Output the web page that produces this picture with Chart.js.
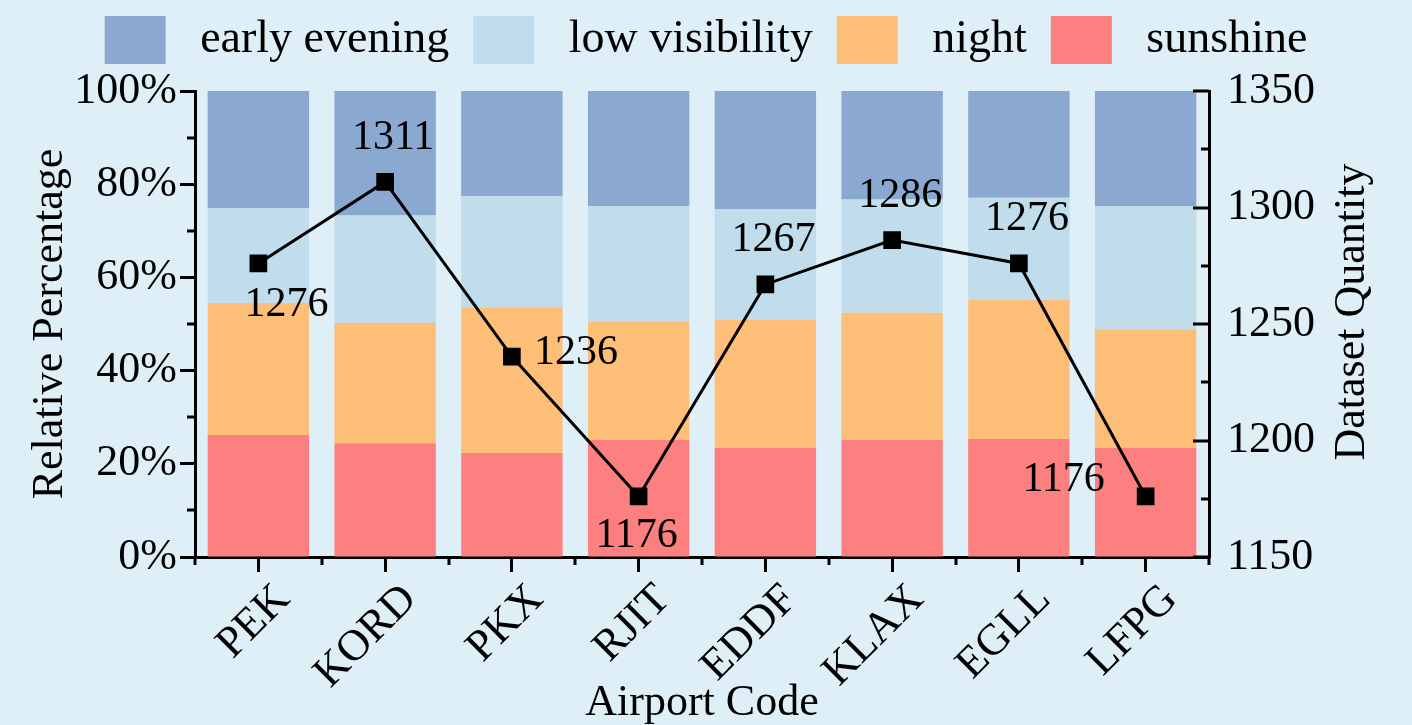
<!DOCTYPE html>
<html>
<head>
<meta charset="utf-8">
<script src="https://cdn.jsdelivr.net/npm/chart.js@4"></script>
<style>
  html, body { margin: 0; padding: 0; background: #dfeff8; }
  #wrap { width: 1412px; height: 725px; }
</style>
</head>
<body>
<div id="wrap"><canvas id="chart" width="1412" height="725"></canvas></div>
<script>
const airports = ["PEK", "KORD", "PKX", "RJIT", "EDDF", "KLAX", "EGLL", "LFPG"];
const sunshine = [26.2, 24.4, 22.3, 25.1, 23.4, 25.1, 25.3, 23.4];
const night = [28.3, 25.8, 31.3, 25.4, 27.5, 27.3, 29.9, 25.5];
const lowVisibility = [20.4, 23.1, 23.8, 24.8, 23.8, 24.3, 21.9, 26.4];
const earlyEvening = [25.1, 26.7, 22.6, 24.7, 25.3, 23.3, 22.9, 24.7];
const datasetQuantity = [1276, 1311, 1236, 1176, 1267, 1286, 1276, 1176];

// where each quantity label sits relative to its marker
const labelSide = ["belowRight", "above", "right", "below", "above", "above", "above", "left"];
const sideShift = {
  above: [8, -44],
  below: [-2, 40],
  belowRight: [28, 42],
  right: [64, -4],
  left: [-82, -16],
};

Chart.defaults.font.family = '"Liberation Serif", "Times New Roman", serif';
Chart.defaults.color = "#000";

const legendHeight = {
  id: "legendHeight",
  afterInit(chart) {
    const originalFit = chart.legend.fit;
    chart.legend.fit = function fit() {
      originalFit.call(this);
      this.height = 99;
    };
  },
};

const extraTicks = {
  id: "extraTicks",
  afterDraw(chart) {
    const { ctx, chartArea: a, scales } = chart;
    const { x, y, y1 } = scales;
    ctx.save();
    ctx.strokeStyle = "#000";
    ctx.lineWidth = 3;
    const seg = (x0, y0, x2, y2) => {
      ctx.beginPath();
      ctx.moveTo(x0, y0);
      ctx.lineTo(x2, y2);
      ctx.stroke();
    };
    for (let v = 10; v < 100; v += 20) {
      const py = Math.round(y.getPixelForValue(v));
      seg(a.left, py, a.left - 8, py);
    }
    for (let v = 1150; v <= 1350; v += 50) {
      const py = Math.round(y1.getPixelForValue(v));
      seg(a.right, py, a.right - 16, py);
    }
    for (let v = 1175; v < 1350; v += 50) {
      const py = Math.round(y1.getPixelForValue(v));
      seg(a.right, py, a.right - 8, py);
    }
    for (let i = 0; i <= airports.length; i++) {
      const px = Math.round(x.getPixelForValue(i - 0.5));
      seg(px, a.bottom, px, a.bottom + 8);
    }

    // right axis title, read from bottom to top
    ctx.fillStyle = "#000";
    ctx.font = '44px "Liberation Serif"';
    ctx.textAlign = "center";
    ctx.textBaseline = "middle";
    ctx.translate(chart.width - 60, (a.top + a.bottom) / 2 - 12);
    ctx.rotate(-Math.PI / 2);
    ctx.fillText("Dataset Quantity", 0, 0);
    ctx.restore();
  },
};

const valueLabels = {
  id: "valueLabels",
  afterDatasetsDraw(chart) {
    const { ctx } = chart;
    const meta = chart.getDatasetMeta(4);
    ctx.save();
    ctx.font = '42px "Liberation Serif"';
    ctx.fillStyle = "#000";
    ctx.textAlign = "center";
    ctx.textBaseline = "middle";
    meta.data.forEach((pt, i) => {
      const [dx, dy] = sideShift[labelSide[i]];
      ctx.fillText(String(datasetQuantity[i]), pt.x + dx, pt.y + dy);
    });
    ctx.restore();
  },
};

const barStyle = {
  type: "bar",
  yAxisID: "y",
  borderWidth: 0,
  categoryPercentage: 0.8,
  barPercentage: 1,
  order: 1,
};

const data = {
  labels: airports,
  datasets: [
    { ...barStyle, label: "sunshine", data: sunshine, backgroundColor: "#fd8080" },
    { ...barStyle, label: "night", data: night, backgroundColor: "#fdbe78" },
    { ...barStyle, label: "low visibility", data: lowVisibility, backgroundColor: "#c1ddeb" },
    { ...barStyle, label: "early evening", data: earlyEvening, backgroundColor: "#8aa8d0" },
    {
      type: "line",
      label: "Dataset Quantity",
      data: datasetQuantity,
      yAxisID: "y1",
      borderColor: "#000",
      borderWidth: 3,
      pointStyle: "rect",
      pointRadius: 12.5,
      pointBackgroundColor: "#000",
      pointBorderWidth: 0,
      tension: 0,
      order: 0,
    },
  ],
};

const tickFont = { size: 44 };

const config = {
  data: data,
  options: {
    responsive: false,
    animation: false,
    layout: { padding: { top: -8, left: 0, right: 0, bottom: 0 } },
    plugins: {
      legend: {
        position: "top",
        reverse: true,
        labels: {
          boxWidth: 61,
          boxHeight: 48,
          padding: 24,
          font: { size: 46 },
          generateLabels(chart) {
            return Chart.defaults.plugins.legend.labels
              .generateLabels(chart)
              .filter((l) => l.datasetIndex < 4)
              .map((l) => ({ ...l, text: " " + l.text }));
          },
        },
      },
      tooltip: { enabled: false },
    },
    scales: {
      x: {
        stacked: true,
        offset: true,
        grid: {
          display: true,
          drawOnChartArea: false,
          offset: false,
          tickLength: 15,
          tickWidth: 3,
          tickColor: "#000",
        },
        border: { display: true, color: "#000", width: 3 },
        ticks: { font: tickFont, minRotation: 45, maxRotation: 45, padding: 2, labelOffset: 25 },
        title: { display: true, text: "Airport Code", font: { size: 44 }, padding: { top: 0, bottom: -5 } },
        afterFit(scale) {
          scale.height = 168;
        },
      },
      y: {
        stacked: true,
        min: 0,
        max: 100,
        position: "left",
        grid: {
          display: true,
          drawOnChartArea: false,
          tickLength: 15,
          tickWidth: 3,
          tickColor: "#000",
        },
        border: { display: true, color: "#000", width: 3 },
        ticks: { stepSize: 20, font: tickFont, padding: 3, callback: (v) => v + "%" },
        title: { display: true, text: "Relative Percentage", font: { size: 44 }, padding: { top: 24, bottom: 0 } },
        afterFit(scale) {
          scale.width = 195;
        },
      },
      y1: {
        min: 1150,
        max: 1350,
        position: "right",
        grid: { display: false, drawTicks: false, tickLength: 0 },
        border: { display: true, color: "#000", width: 3 },
        ticks: { stepSize: 50, font: tickFont, padding: 18, callback: (v) => String(v) },
        title: { display: false },
        afterFit(scale) {
          scale.width = 203;
        },
      },
    },
  },
  plugins: [legendHeight, extraTicks, valueLabels],
};

const chart = new Chart(document.getElementById("chart"), config);
</script>
</body>
</html>
